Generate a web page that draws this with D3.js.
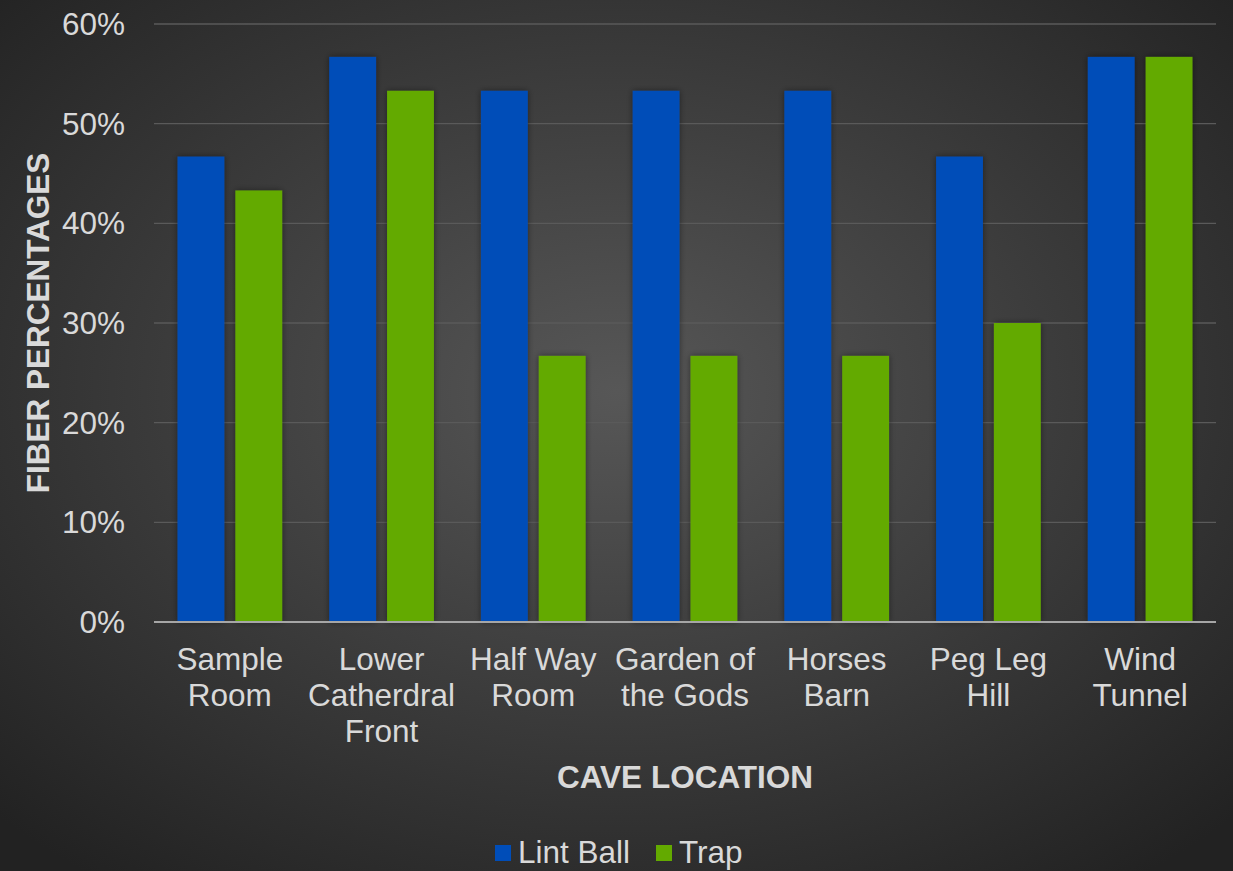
<!DOCTYPE html>
<html>
<head>
<meta charset="utf-8" />
<title>Fiber percentages by cave location</title>
<script src="https://cdn.jsdelivr.net/npm/d3@7/dist/d3.min.js"></script>
<style>
  html, body { margin: 0; padding: 0; background: #2a2a2a; }
  svg { display: block; font-family: "Liberation Sans", Arial, sans-serif; }
</style>
</head>
<body>
<div id="chart"></div>
<script>
// data
var categories = [["Sample", "Room"], ["Lower", "Catherdral", "Front"], ["Half Way", "Room"],
                  ["Garden of", "the Gods"], ["Horses", "Barn"], ["Peg Leg", "Hill"], ["Wind", "Tunnel"]];
var seriesNames = ["Lint Ball", "Trap"];
var lintBall = [46.7, 56.7, 53.3, 53.3, 53.3, 46.7, 56.7];
var trap = [43.3, 53.3, 26.7, 26.7, 26.7, 30.0, 56.7];
var yTicks = [0, 10, 20, 30, 40, 50, 60];
var colors = ["#004db8", "#63aa00"];

var W = 1233, H = 871;
var m = {left: 154, right: 17, top: 24, bottom: 249};
var fs = "31.5px";

var svg = d3.select("#chart").append("svg").attr("width", W).attr("height", H);
var defs = svg.append("defs");
var grad = defs.append("radialGradient").attr("id", "bg")
    .attr("cx", "50%").attr("cy", "45%").attr("r", "70%");
grad.append("stop").attr("offset", "0%").attr("stop-color", "#575757");
grad.append("stop").attr("offset", "100%").attr("stop-color", "#222222");
var shadow = defs.append("filter").attr("id", "shadow")
    .attr("x", "-30%").attr("y", "-10%").attr("width", "160%").attr("height", "120%");
shadow.append("feDropShadow").attr("dx", 0).attr("dy", 0).attr("stdDeviation", 3)
    .attr("flood-color", "#000").attr("flood-opacity", 0.45);

svg.append("rect").attr("width", W).attr("height", H).attr("fill", "url(#bg)");

var x0 = d3.scaleBand().domain(d3.range(categories.length))
    .range([m.left, W - m.right]).paddingInner(0.31).paddingOuter(0.155);
var x1 = d3.scaleBand().domain([0, 1]).range([0, x0.bandwidth()]).paddingInner(0.19);
var y = d3.scaleLinear().domain([0, 60]).range([H - m.bottom, m.top]);

// gridlines
svg.append("g").selectAll("line").data(yTicks.slice(1)).enter().append("line")
    .attr("x1", m.left).attr("x2", W - m.right)
    .attr("y1", function(d) { return y(d); }).attr("y2", function(d) { return y(d); })
    .attr("stroke", "#5a5a5a").attr("stroke-width", 1.3);

// y tick labels
svg.append("g").selectAll("text").data(yTicks).enter().append("text")
    .attr("x", 125).attr("y", function(d) { return y(d); }).attr("dy", "0.35em")
    .attr("text-anchor", "end").attr("fill", "#d9d9d9").attr("font-size", fs)
    .text(function(d) { return d + "%"; });

// bars
var groups = svg.append("g").selectAll("g").data(categories).enter().append("g")
    .attr("transform", function(d, i) { return "translate(" + x0(i) + ",0)"; });
groups.selectAll("rect").data(function(d, i) { return [lintBall[i], trap[i]]; })
    .enter().append("rect")
    .attr("x", function(d, j) { return x1(j); })
    .attr("width", x1.bandwidth())
    .attr("y", function(d) { return y(d); })
    .attr("height", function(d) { return y(0) - y(d); })
    .attr("fill", function(d, j) { return colors[j]; })
    .attr("filter", "url(#shadow)");

// baseline
svg.append("line").attr("x1", m.left).attr("x2", W - m.right)
    .attr("y1", y(0)).attr("y2", y(0)).attr("stroke", "#a6a6a6").attr("stroke-width", 2);

// category labels
groups.each(function(d, i) {
  var t = d3.select(this).append("text").attr("text-anchor", "middle")
      .attr("fill", "#d9d9d9").attr("font-size", fs);
  d.forEach(function(line, k) {
    t.append("tspan").attr("x", x0.bandwidth() / 2).attr("y", 670 + k * 36).text(line);
  });
});

// axis titles
svg.append("text").attr("x", (m.left + W - m.right) / 2).attr("y", 788)
    .attr("text-anchor", "middle").attr("fill", "#d9d9d9").attr("font-size", fs)
    .attr("font-weight", "bold").text("CAVE LOCATION");
svg.append("text").attr("transform", "translate(49," + y(30) + ") rotate(-90)")
    .attr("text-anchor", "middle").attr("fill", "#d9d9d9").attr("font-size", fs)
    .attr("font-weight", "bold").text("FIBER PERCENTAGES");

// legend
var legend = svg.append("g");
var lx = [495, 656];
seriesNames.forEach(function(name, i) {
  legend.append("rect").attr("x", lx[i]).attr("y", 845).attr("width", 16).attr("height", 16)
      .attr("fill", colors[i]);
  legend.append("text").attr("x", lx[i] + 23).attr("y", 863).attr("fill", "#d9d9d9")
      .attr("font-size", fs).text(name);
});
</script>
</body>
</html>
